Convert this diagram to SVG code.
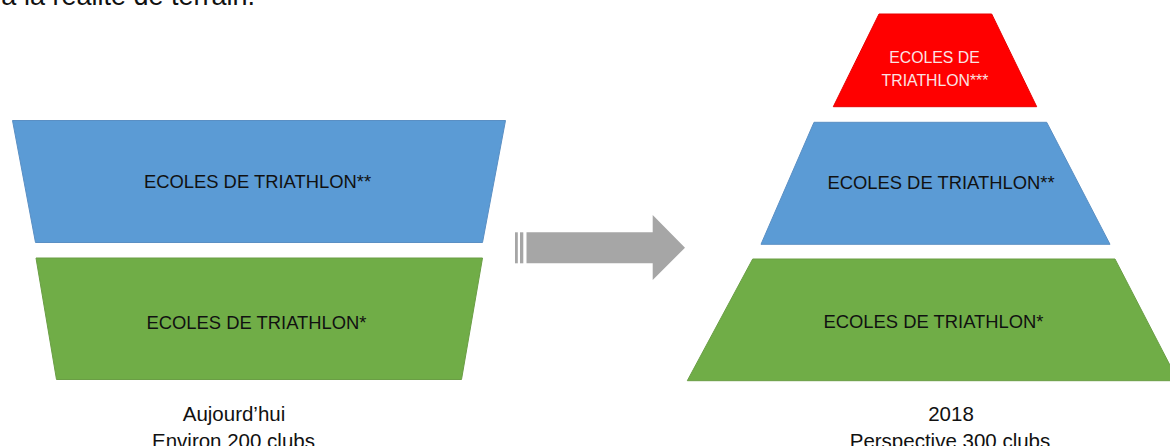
<svg xmlns="http://www.w3.org/2000/svg" width="1170" height="446" viewBox="0 0 1170 446">
<style>
.t{font-family:"Liberation Sans",Arial,sans-serif;fill:#111;text-anchor:middle}
.blue{fill:#5b9bd5;stroke:#5a8fc4;stroke-width:1}
.green{fill:#70ad47;stroke:#6a9e45;stroke-width:1}
.red{fill:#ff0000;stroke:#e80000;stroke-width:1}
.arrow{fill:#a6a6a6}
</style>
<rect width="1170" height="446" fill="#ffffff"/>
<text class="t" x="255" y="5" font-size="27" style="text-anchor:end">à la réalité de terrain.</text>
<g id="left-blue">
<polygon class="blue" points="12.5,120.5 505.5,120.5 482.5,242.5 35.5,242.5"/>
<text class="t" x="257.5" y="188" font-size="18.4">ECOLES DE TRIATHLON**</text>
</g>
<g id="left-green">
<polygon class="green" points="36,258 482.5,258 461.5,379.5 56.5,379.5"/>
<text class="t" x="256.5" y="328.5" font-size="18.4">ECOLES DE TRIATHLON*</text>
</g>
<g id="left-label">
<text class="t" x="234" y="421" font-size="20.5">Aujourd’hui</text>
<text class="t" x="233.5" y="448" font-size="20.5">Environ 200 clubs</text>
</g>
<g id="connectors">
<rect class="arrow" x="515" y="232.3" width="2.8" height="31"/>
<rect class="arrow" x="520" y="232.3" width="3.3" height="31"/>
<polygon class="arrow" points="526.5,232.3 652.7,232.3 652.7,215 685,247.7 652.7,280 652.7,263.3 526.5,263.3"/>
</g>
<g id="right-red">
<polygon class="red" points="879,14 991.7,14 1036.7,106.7 833.3,106.7"/>
<text class="t" x="934.5" y="62.5" font-size="15.8" style="fill:#fbe3e3">ECOLES DE</text>
<text class="t" x="935" y="86" font-size="15.8" style="fill:#fbe3e3">TRIATHLON***</text>
</g>
<g id="right-blue">
<polygon class="blue" points="814,122.3 1046.7,122.3 1110,244.3 761,244.3"/>
<text class="t" x="941" y="189" font-size="18.4">ECOLES DE TRIATHLON**</text>
</g>
<g id="right-green">
<polygon class="green" points="752.7,259 1115,259 1178,380.7 687.3,380.7"/>
<text class="t" x="933.5" y="328" font-size="18.4">ECOLES DE TRIATHLON*</text>
</g>
<g id="right-label">
<text class="t" x="951" y="421" font-size="20.5">2018</text>
<text class="t" x="950" y="448" font-size="20.5">Perspective 300 clubs</text>
</g>
</svg>
